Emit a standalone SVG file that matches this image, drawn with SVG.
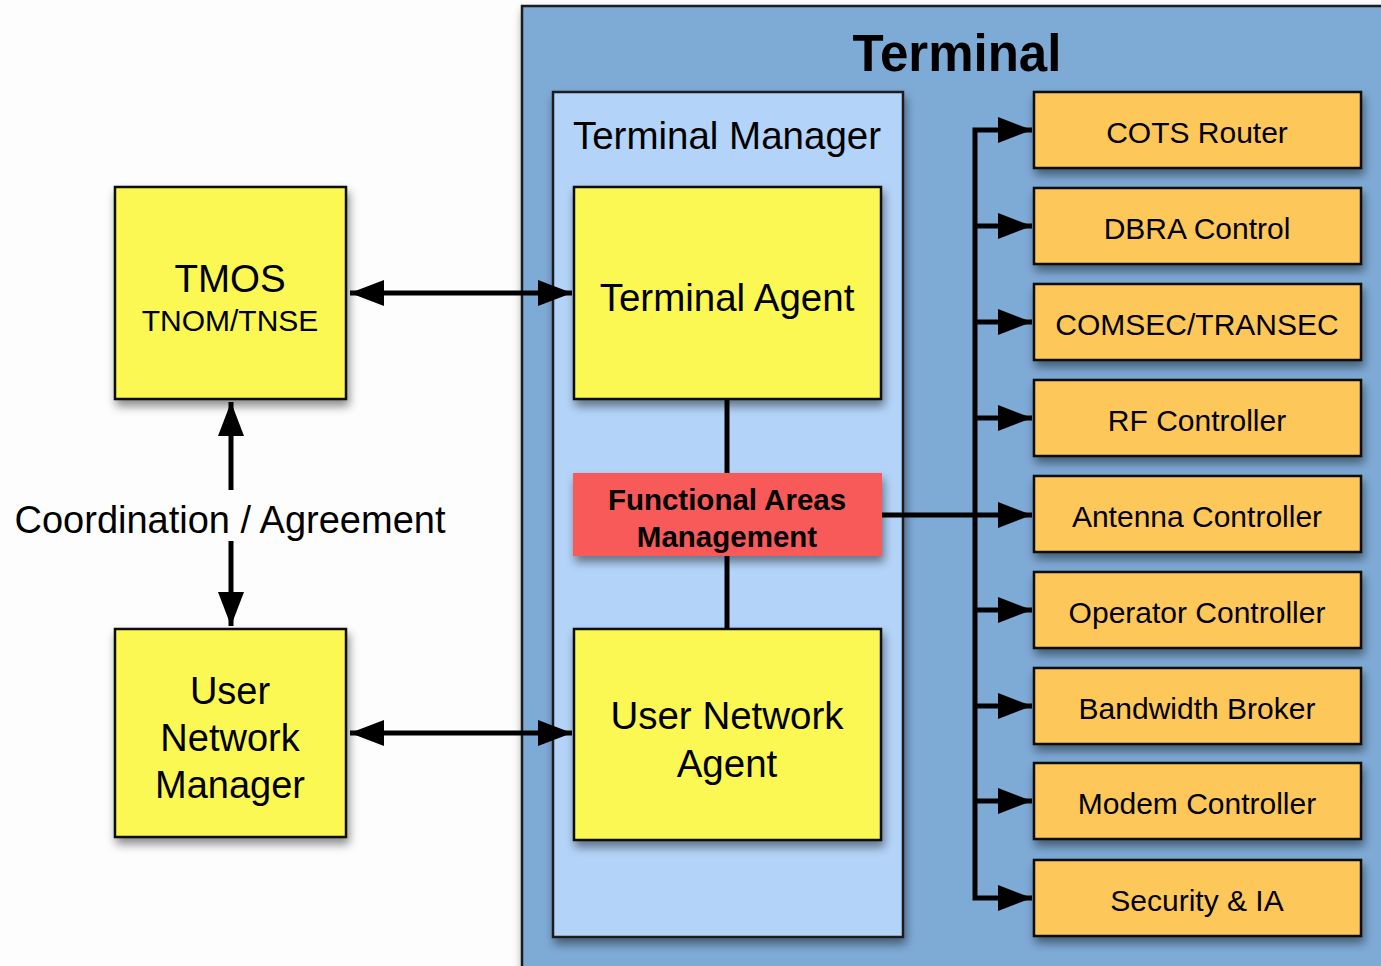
<svg xmlns="http://www.w3.org/2000/svg" width="1381" height="966" viewBox="0 0 1381 966">
<defs>
<filter id="sh" x="-10%" y="-10%" width="125%" height="130%">
<feDropShadow dx="2" dy="6" stdDeviation="5" flood-color="#000" flood-opacity="0.45"/>
</filter>
<marker id="ahb" viewBox="0 0 34 26" refX="34" refY="13" markerWidth="34" markerHeight="26" markerUnits="userSpaceOnUse" orient="auto-start-reverse">
<path d="M0,0 L34,13 L0,26 z" fill="#000"/>
</marker>
<style>
.t{font-family:"Liberation Sans",Arial,sans-serif;fill:#000;text-anchor:middle}
.y{fill:#fcf852;stroke:#111;stroke-width:2.5}
.o{fill:#fdc75a;stroke:#111;stroke-width:2.5}
.ln{stroke:#000;stroke-width:5;fill:none}
.ot{font-size:30px}
</style>
</defs>
<rect width="1381" height="966" fill="#fdfdfd"/>
<g id="terminal">
<rect x="522" y="6" width="880" height="980" fill="#7eaad6" stroke="#1a1a1a" stroke-width="2.5" filter="url(#sh)"/>
<text class="t" x="957" y="71" font-size="51" font-weight="bold">Terminal</text>
</g>
<g id="terminal-manager">
<rect x="553" y="92" width="350" height="845" fill="#b3d3f8" stroke="#1a1a1a" stroke-width="2.5" filter="url(#sh)"/>
<text class="t" x="727" y="149" font-size="38.5">Terminal Manager</text>
</g>
<g id="connectors">
<line class="ln" x1="727" y1="399" x2="727" y2="473"/>
<line class="ln" x1="727" y1="556" x2="727" y2="629"/>
<line class="ln" x1="350" y1="293" x2="572" y2="293" marker-start="url(#ahb)" marker-end="url(#ahb)"/>
<line class="ln" x1="350" y1="733" x2="572" y2="733" marker-start="url(#ahb)" marker-end="url(#ahb)"/>
<line class="ln" x1="231" y1="402" x2="231" y2="490" marker-start="url(#ahb)"/>
<line class="ln" x1="231" y1="541" x2="231" y2="626" marker-end="url(#ahb)"/>
<line class="ln" x1="882" y1="515" x2="1032" y2="515" marker-end="url(#ahb)"/>
<path class="ln" d="M1032,130 H975 V898 H1032" marker-start="url(#ahb)" marker-end="url(#ahb)"/>
<line class="ln" x1="975" y1="226" x2="1032" y2="226" marker-end="url(#ahb)"/>
<line class="ln" x1="975" y1="322" x2="1032" y2="322" marker-end="url(#ahb)"/>
<line class="ln" x1="975" y1="418" x2="1032" y2="418" marker-end="url(#ahb)"/>
<line class="ln" x1="975" y1="610" x2="1032" y2="610" marker-end="url(#ahb)"/>
<line class="ln" x1="975" y1="706" x2="1032" y2="706" marker-end="url(#ahb)"/>
<line class="ln" x1="975" y1="801" x2="1032" y2="801" marker-end="url(#ahb)"/>
</g>
<g id="coord-label">
<text class="t" x="230" y="533" font-size="38">Coordination / Agreement</text>
</g>
<g id="tmos">
<rect class="y" x="115" y="187" width="231" height="212" filter="url(#sh)"/>
<text class="t" x="230" y="292" font-size="38.5">TMOS</text>
<text class="t" x="230" y="331" font-size="30">TNOM/TNSE</text>
</g>
<g id="unm">
<rect class="y" x="115" y="629" width="231" height="208" filter="url(#sh)"/>
<text class="t" x="230" y="704" font-size="38">User</text>
<text class="t" x="230" y="751" font-size="38">Network</text>
<text class="t" x="230" y="798" font-size="38">Manager</text>
</g>
<g id="terminal-agent">
<rect class="y" x="574" y="187" width="307" height="212" filter="url(#sh)"/>
<text class="t" x="727" y="311" font-size="38.5">Terminal Agent</text>
</g>
<g id="fam">
<rect x="573" y="473" width="309" height="83" fill="#f85a5a" filter="url(#sh)"/>
<text class="t" x="727" y="510" font-size="29.5" font-weight="bold">Functional Areas</text>
<text class="t" x="727" y="547" font-size="29.5" font-weight="bold">Management</text>
</g>
<g id="una">
<rect class="y" x="574" y="629" width="307" height="211" filter="url(#sh)"/>
<text class="t" x="727" y="729" font-size="38.5">User Network</text>
<text class="t" x="727" y="777" font-size="38.5">Agent</text>
</g>
<g id="cots"><rect class="o" x="1034" y="92" width="327" height="76" filter="url(#sh)"/><text class="t ot" x="1197" y="143">COTS Router</text></g>
<g id="dbra"><rect class="o" x="1034" y="188" width="327" height="76" filter="url(#sh)"/><text class="t ot" x="1197" y="239">DBRA Control</text></g>
<g id="comsec"><rect class="o" x="1034" y="284" width="327" height="76" filter="url(#sh)"/><text class="t ot" x="1197" y="335">COMSEC/TRANSEC</text></g>
<g id="rf"><rect class="o" x="1034" y="380" width="327" height="76" filter="url(#sh)"/><text class="t ot" x="1197" y="431">RF Controller</text></g>
<g id="antenna"><rect class="o" x="1034" y="476" width="327" height="76" filter="url(#sh)"/><text class="t ot" x="1197" y="527">Antenna Controller</text></g>
<g id="operator"><rect class="o" x="1034" y="572" width="327" height="76" filter="url(#sh)"/><text class="t ot" x="1197" y="623">Operator Controller</text></g>
<g id="bandwidth"><rect class="o" x="1034" y="668" width="327" height="76" filter="url(#sh)"/><text class="t ot" x="1197" y="719">Bandwidth Broker</text></g>
<g id="modem"><rect class="o" x="1034" y="763" width="327" height="76" filter="url(#sh)"/><text class="t ot" x="1197" y="814">Modem Controller</text></g>
<g id="security"><rect class="o" x="1034" y="860" width="327" height="76" filter="url(#sh)"/><text class="t ot" x="1197" y="911">Security &amp; IA</text></g>
</svg>
